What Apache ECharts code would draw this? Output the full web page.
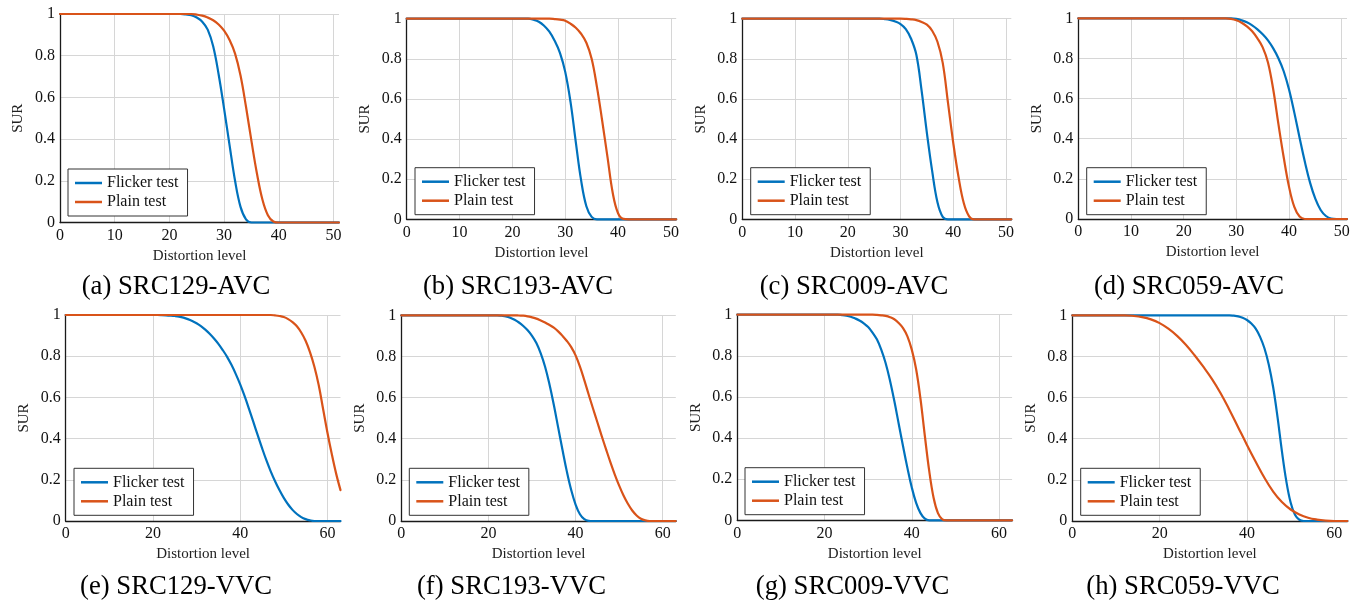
<!DOCTYPE html>
<html>
<head>
<meta charset="utf-8">
<script src="https://cdn.jsdelivr.net/npm/echarts@6/dist/echarts.min.js"></script>
<style>
  html, body { margin: 0; padding: 0; background: #fff; }
  #chart { width: 1359px; height: 601px; }
</style>
</head>
<body>
<div id="chart"></div>
<script>
// Subjective-unacceptability rate (SUR) versus distortion level, flicker vs plain test.
const seriesNames = ['Flicker test', 'Plain test'];
const captions = [
  '(a) SRC129-AVC', '(b) SRC193-AVC', '(c) SRC009-AVC', '(d) SRC059-AVC',
  '(e) SRC129-VVC', '(f) SRC193-VVC', '(g) SRC009-VVC', '(h) SRC059-VVC'
];
const yTicks = [0, 0.2, 0.4, 0.6, 0.8, 1];
const xTicksAVC = [0, 10, 20, 30, 40, 50];
const xTicksVVC = [0, 20, 40, 60];
const xMaxAVC = 51;
const xMaxVVC = 63;

// [distortion level, SUR]
const avc129Flicker = [[0,1],[22,1],[23,0.998],[24,0.994],[25,0.983],[26,0.963],[27,0.925],[28,0.845],[29,0.71],[30,0.545],[31,0.37],[32,0.2],[33,0.075],[34,0.015],[35,0],[51,0]];
const avc129Plain = [[0,1],[24,1],[25,0.997],[26,0.992],[27,0.983],[28,0.97],[29,0.95],[30,0.92],[31,0.875],[32,0.81],[33,0.705],[34,0.555],[35,0.39],[36,0.235],[37,0.11],[38,0.035],[39,0.005],[40,0],[51,0]];

const avc193Flicker = [[0,1],[23,1],[24,0.995],[25,0.985],[26,0.965],[27,0.935],[28,0.89],[29,0.83],[30,0.735],[31,0.585],[32,0.385],[33,0.195],[34,0.065],[35,0.012],[36,0],[51,0]];
const avc193Plain = [[0,1],[27,1],[28,0.998],[29,0.995],[30,0.99],[31,0.975],[32,0.955],[33,0.925],[34,0.88],[35,0.80],[36,0.66],[37,0.49],[38,0.31],[39,0.13],[40,0.03],[41,0.002],[42,0],[51,0]];

const avc009Flicker = [[0,1],[26,1],[27,0.998],[28,0.994],[29,0.986],[30,0.973],[31,0.948],[32,0.90],[33,0.82],[34,0.64],[35,0.43],[36,0.24],[37,0.085],[38,0.012],[39,0],[51,0]];
const avc009Plain = [[0,1],[30,1],[31,0.999],[32,0.997],[33,0.993],[34,0.984],[35,0.97],[36,0.94],[37,0.885],[38,0.78],[39,0.58],[40,0.38],[41,0.21],[42,0.08],[43,0.015],[44,0],[51,0]];

const avc059Flicker = [[0,1],[29,1],[30,0.997],[31,0.99],[32,0.98],[33,0.965],[34,0.945],[35,0.92],[36,0.89],[37,0.85],[38,0.80],[39,0.735],[40,0.645],[41,0.53],[42,0.405],[43,0.285],[44,0.18],[45,0.10],[46,0.045],[47,0.015],[48,0.002],[49,0],[51,0]];
const avc059Plain = [[0,1],[28,1],[29,0.997],[30,0.99],[31,0.978],[32,0.96],[33,0.935],[34,0.90],[35,0.855],[36,0.78],[37,0.645],[38,0.47],[39,0.305],[40,0.16],[41,0.06],[42,0.012],[43,0],[51,0]];

const vvc129Flicker = [[0,1],[21,1],[22,0.9995],[23,0.9985],[24,0.997],[25,0.995],[26,0.992],[27,0.987],[28,0.98],[29,0.971],[30,0.96],[31,0.946],[32,0.929],[33,0.909],[34,0.886],[35,0.86],[36,0.83],[37,0.797],[38,0.758],[39,0.713],[40,0.663],[41,0.607],[42,0.546],[43,0.482],[44,0.418],[45,0.355],[46,0.295],[47,0.241],[48,0.193],[49,0.15],[50,0.112],[51,0.08],[52,0.054],[53,0.034],[54,0.019],[55,0.009],[56,0.003],[57,0],[63,0]];
const vvc129Plain = [[0,1],[47,1],[48,0.998],[49,0.995],[50,0.99],[51,0.98],[52,0.965],[53,0.945],[54,0.915],[55,0.875],[56,0.82],[57,0.75],[58,0.66],[59,0.545],[60,0.43],[61,0.325],[62,0.23],[63,0.15]];

const vvc193Flicker = [[0,1],[22,1],[23,0.998],[24,0.995],[25,0.988],[26,0.978],[27,0.965],[28,0.948],[29,0.927],[30,0.90],[31,0.865],[32,0.815],[33,0.75],[34,0.665],[35,0.565],[36,0.455],[37,0.345],[38,0.24],[39,0.15],[40,0.08],[41,0.033],[42,0.009],[43,0.001],[44,0],[63,0]];
const vvc193Plain = [[0,1],[26,1],[27,0.999],[28,0.998],[29,0.995],[30,0.99],[31,0.984],[32,0.975],[33,0.965],[34,0.953],[35,0.94],[36,0.922],[37,0.90],[38,0.875],[39,0.845],[40,0.805],[41,0.75],[42,0.685],[43,0.615],[44,0.547],[45,0.48],[46,0.413],[47,0.348],[48,0.285],[49,0.226],[50,0.172],[51,0.124],[52,0.084],[53,0.051],[54,0.027],[55,0.011],[56,0.003],[57,0],[63,0]];

const vvc009Flicker = [[0,1],[23,1],[24,0.998],[25,0.995],[26,0.99],[27,0.982],[28,0.972],[29,0.958],[30,0.94],[31,0.913],[32,0.88],[33,0.83],[34,0.765],[35,0.68],[36,0.58],[37,0.47],[38,0.36],[39,0.255],[40,0.16],[41,0.085],[42,0.035],[43,0.008],[44,0],[63,0]];
const vvc009Plain = [[0,1],[31,1],[32,0.999],[33,0.997],[34,0.994],[35,0.988],[36,0.978],[37,0.96],[38,0.935],[39,0.895],[40,0.83],[41,0.735],[42,0.59],[43,0.41],[44,0.24],[45,0.11],[46,0.035],[47,0.005],[48,0],[63,0]];

const vvc059Flicker = [[0,1],[36,1],[37,0.998],[38,0.995],[39,0.988],[40,0.977],[41,0.96],[42,0.935],[43,0.895],[44,0.84],[45,0.76],[46,0.65],[47,0.505],[48,0.34],[49,0.195],[50,0.09],[51,0.03],[52,0.006],[53,0],[63,0]];
const vvc059Plain = [[0,1],[12,1],[14,0.997],[16,0.991],[18,0.98],[20,0.962],[22,0.935],[24,0.90],[26,0.857],[28,0.806],[30,0.75],[32,0.69],[34,0.62],[36,0.54],[38,0.455],[40,0.37],[42,0.288],[44,0.21],[46,0.143],[48,0.092],[50,0.056],[52,0.032],[54,0.016],[56,0.007],[58,0.002],[60,0],[63,0]];

const flickerData = [avc129Flicker, avc193Flicker, avc009Flicker, avc059Flicker,
                     vvc129Flicker, vvc193Flicker, vvc009Flicker, vvc059Flicker];
const plainData = [avc129Plain, avc193Plain, avc009Plain, avc059Plain,
                   vvc129Plain, vvc193Plain, vvc009Plain, vvc059Plain];

// Panel geometry: plot box, legend corner and caption centre.
const panels = [
  { left: 60,    top: 14,    width: 279,   height: 208.5, legend: [68, 169],   cap: [176, 287] },
  { left: 406.7, top: 18.7,  width: 269.5, height: 200.6, legend: [415, 167.7], cap: [518, 287] },
  { left: 742.3, top: 18.7,  width: 269,   height: 200.6, legend: [750.7, 167.7], cap: [854, 287] },
  { left: 1078.3,top: 18.3,  width: 268.7, height: 200.7, legend: [1086.7, 167.7], cap: [1189, 287] },
  { left: 65.7,  top: 315,   width: 274.8, height: 206,   legend: [74, 468.3],  cap: [176, 587] },
  { left: 401.3, top: 315.3, width: 274.5, height: 205.7, legend: [409.3, 468.3], cap: [511.5, 587] },
  { left: 737.3, top: 314.7, width: 274.8, height: 205.6, legend: [745, 467.7], cap: [852.5, 587] },
  { left: 1072.3,top: 315.3, width: 275.1, height: 205.7, legend: [1080.7, 468.3], cap: [1183, 587] }
];

const SERIF = '"Liberation Serif", "Times New Roman", serif';
const BLUE = '#0072BD';
const ORANGE = '#D95319';
const GRIDLINE = '#d6d6d6';

const grids = [], xAxes = [], yAxes = [], series = [], legends = [], graphics = [];

panels.forEach((p, i) => {
  const isAVC = i < 4;
  const xTicks = isAVC ? xTicksAVC : xTicksVVC;
  const xMax = isAVC ? xMaxAVC : xMaxVVC;

  grids.push({ left: p.left, top: p.top, width: p.width, height: p.height });

  xAxes.push({
    type: 'value', gridIndex: i, min: xTicks[0], max: xMax,
    interval: xTicks[1] - xTicks[0],
    name: 'Distortion level', nameLocation: 'middle', nameGap: 26,
    nameTextStyle: { fontFamily: SERIF, fontSize: 15, color: '#222' },
    axisLine: { show: true, onZero: false, lineStyle: { color: '#1a1a1a', width: 1.3 } },
    axisTick: { show: false },
    axisLabel: {
      fontFamily: SERIF, fontSize: 16, color: '#111', margin: 5,
      showMaxLabel: false,
      formatter: v => (xTicks.indexOf(v) >= 0 ? String(v) : '')
    },
    splitLine: { show: true, showMaxLine: false, lineStyle: { color: GRIDLINE, width: 1 } }
  });

  yAxes.push({
    type: 'value', gridIndex: i, min: yTicks[0], max: yTicks[yTicks.length - 1],
    interval: yTicks[1] - yTicks[0],
    name: 'SUR', nameLocation: 'middle', nameRotate: 90, nameGap: 34,
    nameTextStyle: { fontFamily: SERIF, fontSize: 15, color: '#222' },
    axisLine: { show: true, onZero: false, lineStyle: { color: '#1a1a1a', width: 1.3 } },
    axisTick: { show: false },
    axisLabel: {
      fontFamily: SERIF, fontSize: 16, color: '#111', margin: 5,
      formatter: v => String(Math.round(v * 10) / 10)
    },
    splitLine: { show: true, lineStyle: { color: GRIDLINE, width: 1 } }
  });

  [[flickerData[i], BLUE, seriesNames[0]], [plainData[i], ORANGE, seriesNames[1]]].forEach(([d, c, n]) => {
    series.push({
      type: 'line', name: n, xAxisIndex: i, yAxisIndex: i, data: d,
      showSymbol: false, symbol: 'none', smooth: 0.4,
      clip: false, silent: true, animation: false,
      color: c, lineStyle: { color: c, width: 2.2, join: 'round', cap: 'round' }, z: 3
    });
  });

  legends.push({
    left: p.legend[0], top: p.legend[1], orient: 'vertical',
    data: seriesNames, selectedMode: false,
    icon: 'rect', itemWidth: 27, itemHeight: 2.5, itemGap: 3,
    padding: [6, 9, 6, 7],
    backgroundColor: '#fff', borderColor: '#333', borderWidth: 1, borderRadius: 0,
    textStyle: { fontFamily: SERIF, fontSize: 16, color: '#111' },
    z: 10
  });

  graphics.push({
    type: 'text', x: p.cap[0], y: p.cap[1], silent: true,
    style: {
      text: captions[i], font: '26.7px ' + SERIF, fill: '#000',
      textAlign: 'center', textVerticalAlign: 'middle'
    }
  });
});

const chart = echarts.init(document.getElementById('chart'), null, { renderer: 'canvas' });
chart.setOption({
  backgroundColor: '#fff',
  animation: false,
  grid: grids,
  xAxis: xAxes,
  yAxis: yAxes,
  legend: legends,
  series: series,
  graphic: graphics
});
</script>
</body>
</html>
